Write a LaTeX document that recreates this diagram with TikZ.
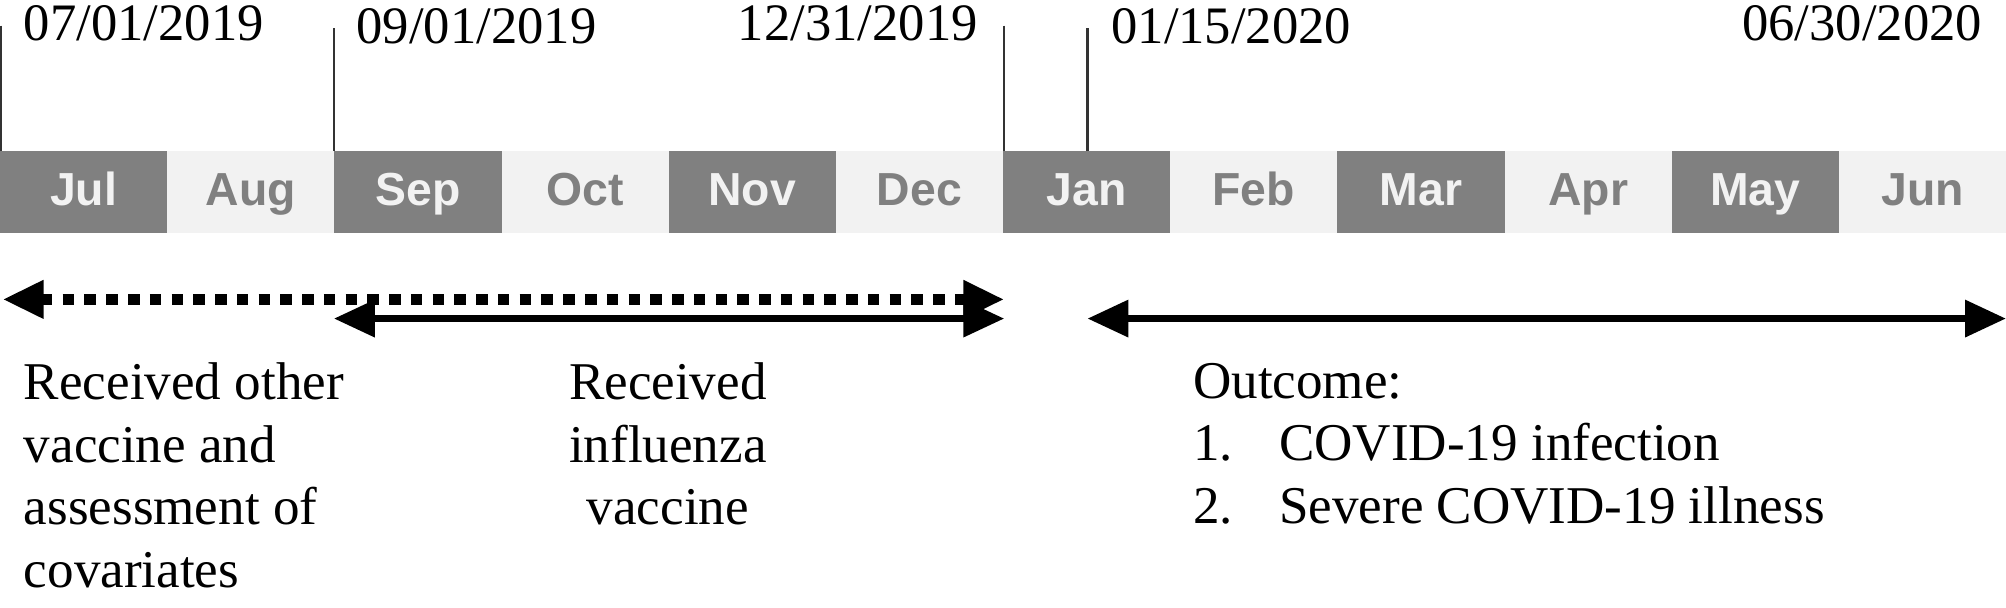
\documentclass[tikz,border=0pt]{standalone}
\usepackage{fontspec}
\setmainfont{Liberation Serif}
\newfontfamily\arial{Liberation Sans}
\usetikzlibrary{arrows.meta}
\definecolor{dk}{HTML}{808080}
\definecolor{lt}{HTML}{F2F2F2}
\tikzset{
  mon/.style={minimum width=1.3067cm,minimum height=0.64cm,anchor=north west,inner sep=0,outer sep=0,text height=1.6ex,text depth=0.3ex,font=\arial\bfseries\fontsize{10.3}{11}\selectfont},
  mdark/.style={mon,fill=dk,text=lt},
  mlight/.style={mon,fill=lt,text=dk},
  tick/.style={line width=0.5pt,black!80},
  date/.style={inner sep=0,font=\fontsize{11.7}{13}\selectfont},
  arr/.style={line width=1.6pt,{Triangle[length=0.32cm,width=0.28cm]}-{Triangle[length=0.32cm,width=0.28cm]}},
  txt/.style={inner sep=0,anchor=north west,align=left,font=\fontsize{11.8}{13.9}\selectfont}
}
\begin{document}
\begin{tikzpicture}[x=0.01cm,y=-0.01cm]
\useasboundingbox (0,0) rectangle (1568,474.5);
\foreach \m [count=\i from 0] in {Jul,Aug,Sep,Oct,Nov,Dec,Jan,Feb,Mar,Apr,May,Jun}{
  \pgfmathtruncatemacro{\parity}{mod(\i,2)}
  \ifnum\parity=0
    \node[mdark] (m\i) at (\i*130.667,118) {\m};
  \else
    \node[mlight] (m\i) at (\i*130.667,118) {\m};
  \fi
}
\coordinate (t1) at (1,20); \coordinate (t2) at (261,22);
\coordinate (t3) at (785,20); \coordinate (t4) at (850,22);
\draw[tick] (t1) -- (t1|-m0.north);
\draw[tick] (t2) -- (t2|-m0.north);
\draw[tick] (t3) -- (t3|-m0.north);
\draw[tick] (t4) -- (t4|-m0.north);
\node[date,anchor=base west] (d1) at (18,32) {07/01/2019};
\node[date,anchor=base west] (d2) at (278,34) {09/01/2019};
\node[date,anchor=base east] (d3) at (765,32) {12/31/2019};
\node[date,anchor=base west] (d4) at (868,34) {01/15/2020};
\node[date,anchor=base east] (d5) at (1550,32) {06/30/2020};
\coordinate (a1) at (2,234); \coordinate (a2) at (785,234);
\coordinate (b1) at (261,249); \coordinate (b2) at (785,249);
\coordinate (c1) at (850,249); \coordinate (c2) at (1568,249);
\draw[arr,line width=2.3pt,dash pattern=on 0.09cm off 0.08cm] (a1) -- (a2);
\draw[arr] (b1) -- (b2);
\draw[arr] (c1) -- (c2);
\node[txt] (l1) at (18,283) {Received other\\vaccine and\\assessment of\\covariates};
\node[txt,align=center,anchor=north] (l2) at (522,283) {Received\\influenza\\vaccine};
\node[txt] (l3) at (932,283) {Outcome:\\1.\hspace{0.36cm}COVID-19 infection\\2.\hspace{0.36cm}Severe COVID-19 illness};
\end{tikzpicture}
\end{document}
